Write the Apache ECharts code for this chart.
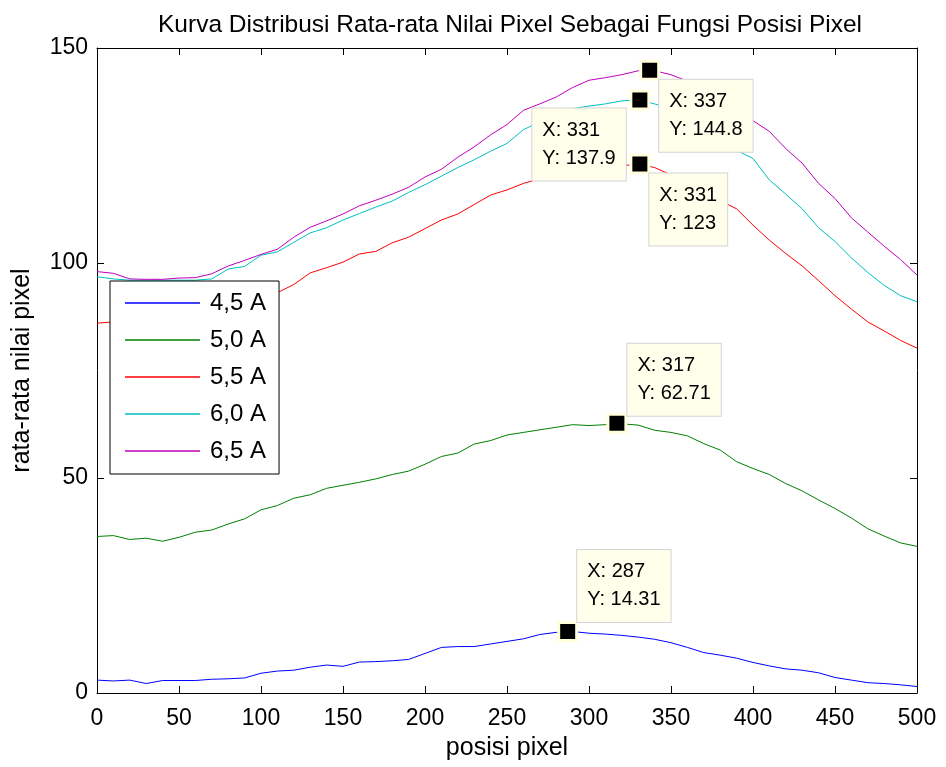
<!DOCTYPE html>
<html>
<head>
<meta charset="utf-8">
<title>Kurva Distribusi</title>
<script src="https://cdn.jsdelivr.net/npm/echarts@6/dist/echarts.min.js"></script>
<style>
    body { margin: 0; background: #fff; }
    #main { width: 946px; height: 767px; }
</style>
</head>
<body>
<div id="main"></div>
<script type="text/javascript">
// posisi pixel (sumbu x), tiap 10 pixel
var posisi = [0, 10, 20, 30, 40, 50, 60, 70, 80, 90, 100, 110, 120, 130, 140, 150, 160, 170, 180, 190,
    200, 210, 220, 230, 240, 250, 260, 270, 280, 290, 300, 310, 320, 330, 340, 350, 360, 370, 380, 390,
    400, 410, 420, 430, 440, 450, 460, 470, 480, 490, 500];

// rata-rata nilai pixel per arus
var arus45 = [3.0, 2.8, 3.0, 2.2, 2.9, 2.9, 2.9, 3.2, 3.3, 3.5, 4.6, 5.1, 5.3, 6.0, 6.5, 6.2, 7.2, 7.3, 7.5, 7.8,
    9.2, 10.6, 10.8, 10.8, 11.4, 12.0, 12.6, 13.6, 14.1, 14.3, 13.9, 13.7, 13.4, 13.0, 12.5, 11.7, 10.6, 9.4, 8.8, 8.1,
    7.1, 6.3, 5.6, 5.3, 4.7, 3.6, 3.0, 2.4, 2.2, 1.9, 1.5];
var arus50 = [36.4, 36.6, 35.7, 36.0, 35.3, 36.2, 37.4, 37.9, 39.3, 40.5, 42.6, 43.6, 45.3, 46.1, 47.6, 48.3, 49.0, 49.8, 50.8, 51.6,
    53.2, 55.0, 55.8, 57.9, 58.7, 60.0, 60.6, 61.2, 61.8, 62.4, 62.2, 62.4, 62.6, 62.3, 61.1, 60.6, 59.8, 58.0, 56.5, 53.8,
    52.2, 50.8, 48.7, 47.0, 44.9, 42.9, 40.7, 38.2, 36.5, 34.9, 34.1];
var arus55 = [86.0, 86.3, 86.4, 86.6, 86.8, 87.0, 87.3, 87.9, 88.9, 90.2, 91.6, 93.1, 95.0, 97.7, 98.9, 100.2, 102.1, 102.7, 104.7, 106.0,
    108.0, 110.0, 111.4, 113.6, 115.8, 117.0, 118.5, 119.6, 120.2, 120.8, 121.4, 122.0, 122.6, 123.0, 122.2, 120.5, 118.5, 116.5, 114.5, 112.6,
    108.8, 105.3, 102.2, 99.3, 95.9, 92.4, 89.3, 86.3, 84.2, 82.0, 80.2];
var arus60 = [96.8, 96.3, 96.0, 96.0, 96.0, 96.0, 96.0, 96.3, 98.6, 99.2, 101.8, 102.6, 104.8, 107.0, 108.2, 110.0, 111.5, 113.0, 114.4, 116.4,
    118.2, 120.2, 122.2, 124.0, 126.0, 127.8, 131.0, 132.8, 134.8, 135.9, 136.5, 137.0, 137.7, 137.9, 137.0, 136.0, 134.0, 131.5, 128.8, 126.2,
    124.3, 119.3, 116.0, 112.6, 108.2, 105.0, 101.2, 97.8, 94.8, 92.4, 91.0];
var arus65 = [98.0, 97.6, 96.3, 96.2, 96.2, 96.5, 96.6, 97.5, 99.3, 100.6, 102.0, 103.2, 106.0, 108.3, 109.8, 111.4, 113.3, 114.6, 116.0, 117.6,
    120.0, 121.8, 124.6, 127.0, 129.8, 132.2, 135.5, 137.0, 138.6, 140.8, 142.5, 143.1, 143.8, 144.7, 144.7, 143.8, 142.3, 140.5, 138.0, 135.5,
    133.1, 130.6, 126.6, 123.2, 118.5, 115.0, 110.5, 107.2, 103.9, 100.8, 97.2];

var namaSeri = ['4,5 A', '5,0 A', '5,5 A', '6,0 A', '6,5 A'];
var warna = ['#0000ff', '#008000', '#ff0000', '#00bfbf', '#bf00bf'];

// data tip (x, y) seperti di gambar
var tipX = [287, 317, 331, 331, 337];
var tipY = [14.31, 62.71, 123, 137.9, 144.8];
// posisi kotak label relatif ke marker
var tipPos = [[20, -71], [21, -69], [20, 20], [-97, 19], [20, 20]];

var semuaData = [arus45, arus50, arus55, arus60, arus65];
var font = 'Liberation Sans, Arial, sans-serif';

var series = semuaData.map(function (ys, i) {
    return {
        name: namaSeri[i],
        type: 'line',
        symbol: 'none',
        color: warna[i],
        lineStyle: { width: 1, color: warna[i] },
        data: posisi.map(function (x, k) { return [x, ys[k]]; }),
        markPoint: {
            symbol: 'rect',
            symbolSize: 18,
            itemStyle: { color: '#000', borderColor: '#ffffdc', borderWidth: 3 },
            label: {
                show: true,
                position: tipPos[i],
                formatter: 'X: ' + tipX[i] + '\nY: ' + tipY[i],
                color: '#000',
                fontFamily: font,
                fontSize: 20,
                lineHeight: 28,
                backgroundColor: '#ffffec',
                borderColor: '#d4d4d4',
                borderWidth: 1,
                padding: [8, 10, 8, 10]
            },
            data: [{ coord: [tipX[i], tipY[i]] }]
        }
    };
});

var chart = echarts.init(document.getElementById('main'));
// sumbu atas & kanan: hanya tick ke dalam (gaya kotak matlab)
var sumbuBayangan = {
    axisLine: { show: true, onZero: false, lineStyle: { color: '#000', width: 1 } },
    axisTick: { show: true, inside: true, length: 7, lineStyle: { color: '#000' } },
    axisLabel: { show: false },
    splitLine: { show: false }
};
var option = {
    animation: false,
    backgroundColor: '#fff',
    title: {
        text: 'Kurva Distribusi Rata-rata Nilai Pixel Sebagai Fungsi Posisi Pixel',
        left: 505,
        textAlign: 'center',
        top: 8,
        textStyle: { fontFamily: font, fontSize: 24.5, fontWeight: 'normal', color: '#000' }
    },
    legend: {
        orient: 'vertical',
        left: 110,
        top: 281,
        data: namaSeri,
        icon: 'rect',
        itemWidth: 75,
        itemHeight: 1.5,
        itemGap: 13,
        padding: [10, 13, 11, 15],
        backgroundColor: '#fff',
        borderColor: '#000',
        borderWidth: 1,
        textStyle: { fontFamily: font, fontSize: 24, color: '#000', padding: [0, 0, 0, 5] }
    },
    grid: { left: 97, right: 29, top: 48, bottom: 74 },
    xAxis: [{
        type: 'value',
        min: 0,
        max: 500,
        interval: 50,
        name: 'posisi pixel',
        nameLocation: 'middle',
        nameGap: 43,
        nameTextStyle: { fontFamily: font, fontSize: 25, color: '#000' },
        axisLine: { show: true, onZero: false, lineStyle: { color: '#000', width: 1 } },
        axisTick: { show: true, inside: true, length: 7, lineStyle: { color: '#000' } },
        axisLabel: { fontFamily: font, fontSize: 23, color: '#000', margin: 14 },
        splitLine: { show: false }
    }, Object.assign({ type: 'value', position: 'top', min: 0, max: 500, interval: 50 }, sumbuBayangan)],
    yAxis: [{
        type: 'value',
        min: 0,
        max: 150,
        interval: 50,
        name: 'rata-rata nilai pixel',
        nameLocation: 'middle',
        nameGap: 62,
        nameTextStyle: { fontFamily: font, fontSize: 25, color: '#000' },
        axisLine: { show: true, onZero: false, lineStyle: { color: '#000', width: 1 } },
        axisTick: { show: true, inside: true, length: 7, lineStyle: { color: '#000' } },
        axisLabel: { fontFamily: font, fontSize: 23, color: '#000', margin: 9 },
        splitLine: { show: false }
    }, Object.assign({ type: 'value', position: 'right', min: 0, max: 150, interval: 50 }, sumbuBayangan)],
    series: series
};
chart.setOption(option);
</script>
</body>
</html>
